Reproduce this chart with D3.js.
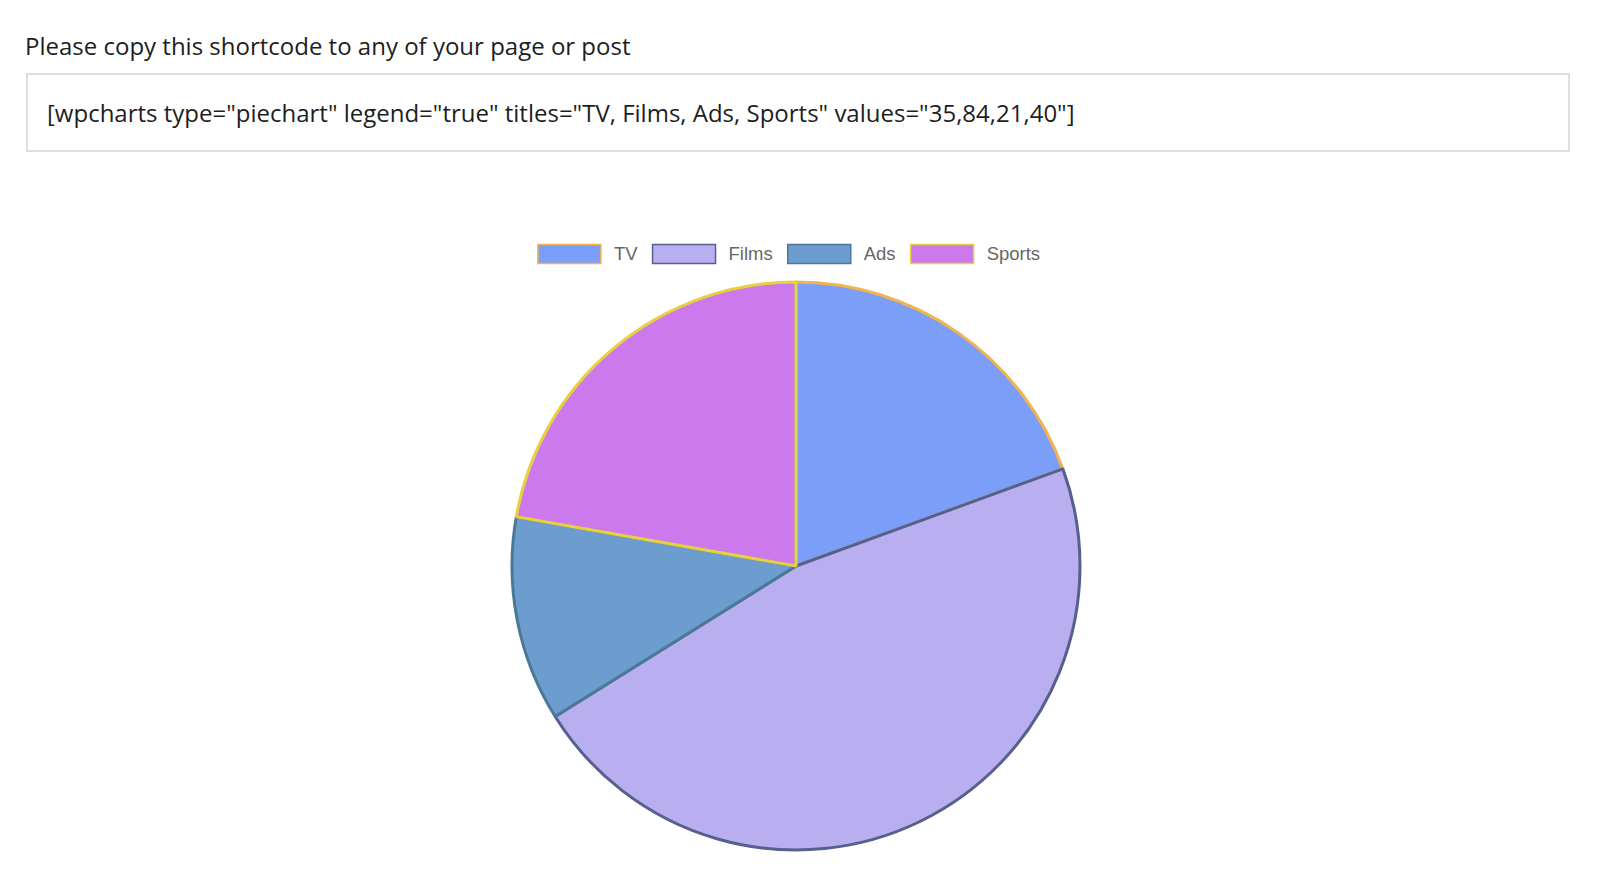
<!DOCTYPE html>
<html>
<head>
<meta charset="utf-8">
<script src="https://cdn.jsdelivr.net/npm/d3@7"></script>
<style>
  html, body { margin: 0; padding: 0; background: #fff; }
  body { width: 1600px; height: 882px; overflow: hidden; position: relative; }
  #intro {
    position: absolute; left: 25px; top: 29px;
    font-family: "Open Sans", "Noto Sans", sans-serif; font-size: 24px;
    color: #1e1e1e; white-space: nowrap;
  }
  #shortcode {
    position: absolute; left: 26px; top: 73px; width: 1544px; height: 79px;
    border: 2px solid #dedede; box-sizing: border-box;
  }
  #shortcode span {
    position: absolute; left: 19px; top: 21px;
    font-family: "Open Sans", "Noto Sans", sans-serif; font-size: 24px;
    color: #1e1e1e; white-space: nowrap;
  }
  #chart { position: absolute; left: 0; top: 0; }
</style>
</head>
<body>
<div id="intro">Please copy this shortcode to any of your page or post</div>
<div id="shortcode"><span>[wpcharts type="piechart" legend="true" titles="TV, Films, Ads, Sports" values="35,84,21,40"]</span></div>
<svg id="chart" width="1600" height="882"></svg>
<script>
// Chart data, read from the shortcode.
const titles = ['TV', 'Films', 'Ads', 'Sports'];
const values = [35, 84, 21, 40];
const fills = ['#7b9ef9', '#b8aef0', '#6c9dce', '#cc79ee'];
const borders = ['#f2b450', '#55608c', '#4a7896', '#e6d23c'];

const svg = d3.select('#chart');

// Pie geometry
const cx = 796, cy = 566, radius = 284;

const pie = d3.pie()
  .value(d => d.value)
  .sort(null);

const arc = d3.arc()
  .innerRadius(0)
  .outerRadius(radius);

const slices = titles.map((t, i) => ({ title: t, value: values[i], fill: fills[i], border: borders[i] }));

const g = svg.append('g').attr('transform', `translate(${cx},${cy})`);

// Slices are drawn in order, later borders sit on top like the original.
g.selectAll('path')
  .data(pie(slices))
  .join('path')
  .attr('d', arc)
  .attr('fill', d => d.data.fill)
  .attr('stroke', d => d.data.border)
  .attr('stroke-width', 3)
  .attr('stroke-linejoin', 'bevel');

// Legend
const legend = svg.append('g');
const boxW = 63, boxH = 19, fontSize = 18.5, textGap = 13, itemPad = 15;
const legendY = 254;

const items = legend.selectAll('g')
  .data(slices)
  .join('g');

items.append('rect')
  .attr('width', boxW)
  .attr('height', boxH)
  .attr('y', legendY - boxH / 2)
  .attr('fill', d => d.fill)
  .attr('stroke', d => d.border)
  .attr('stroke-width', 1.5);

items.append('text')
  .attr('x', boxW + textGap)
  .attr('y', legendY)
  .attr('dy', '0.35em')
  .attr('font-family', '"Liberation Sans", Arial, Helvetica, sans-serif')
  .attr('font-size', fontSize)
  .attr('fill', '#666')
  .text(d => d.title);

// Lay out the items in one centred row.
let widths = [];
items.each(function() {
  const tw = d3.select(this).select('text').node().getComputedTextLength();
  widths.push(boxW + textGap + tw);
});
const total = d3.sum(widths) + itemPad * (widths.length - 1);
let x = 789 - total / 2;
items.attr('transform', (d, i) => {
  const t = `translate(${x},0)`;
  x += widths[i] + itemPad;
  return t;
});
</script>
</body>
</html>
